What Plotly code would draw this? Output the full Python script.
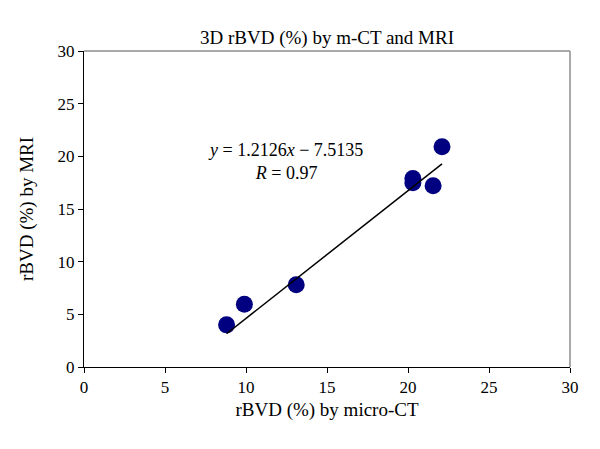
import plotly.graph_objects as go

# Data
mct = [8.8, 9.9, 13.1, 20.3, 20.3, 21.55, 22.1]
mri = [4.0, 5.95, 7.8, 17.9, 17.5, 17.2, 20.9]
slope = 1.2126
intercept = -7.5135
r_value = 0.97
tick_vals = [0, 5, 10, 15, 20, 25, 30]

FONT = "Liberation Serif"
TEXT_SIZE = 19
TICK_SIZE = 17

x_line = [min(mct), max(mct)]
y_line = [slope * v + intercept for v in x_line]

fig = go.Figure()
fig.add_trace(go.Scatter(
    x=mct, y=mri, mode="markers",
    marker=dict(size=17, color="#000080", line=dict(width=0)),
    showlegend=False, hoverinfo="x+y",
))
fig.add_trace(go.Scatter(
    x=x_line, y=y_line, mode="lines",
    line=dict(color="black", width=1.5),
    showlegend=False, hoverinfo="skip",
))

axis_common = dict(
    range=[0, 30], tickvals=tick_vals, ticks="outside", ticklen=5,
    tickcolor="black", tickwidth=1, showgrid=False, zeroline=False,
    showline=True, linecolor="black", linewidth=1,
    tickfont=dict(family=FONT, size=TICK_SIZE, color="black"),
)

fig.update_layout(
    width=600, height=449,
    margin=dict(l=76, r=38, t=43, b=90),
    paper_bgcolor="white", plot_bgcolor="white",
    font=dict(family=FONT, size=TEXT_SIZE, color="black"),
    title=dict(text="3D rBVD (%) by m-CT and MRI", x=319 / 600, xanchor="center",
               y=1 - 29 / 449, yanchor="middle",
               font=dict(family=FONT, size=TEXT_SIZE, color="black")),
    xaxis=dict(axis_common, title=dict(text="rBVD (%) by micro-CT", standoff=6,
                                        font=dict(family=FONT, size=TEXT_SIZE))),
    yaxis=dict(axis_common, title=dict(text="rBVD (%) by MRI", standoff=18,
                                        font=dict(family=FONT, size=TEXT_SIZE))),
    shapes=[
        dict(type="line", xref="paper", yref="paper", x0=0, x1=1, y0=1, y1=1,
             line=dict(color="#8c8c8c", width=1.5)),
        dict(type="line", xref="paper", yref="paper", x0=1, x1=1, y0=0, y1=1,
             line=dict(color="#8c8c8c", width=1.5)),
    ],
    annotations=[
        dict(x=12.44, y=19.5, xref="x", yref="y", showarrow=False,
             xanchor="center", yanchor="middle", align="center",
             text=(f"<i>y</i> = {slope}<i>x</i> − {abs(intercept)}"
                   f"<br><i>R</i> = {r_value}"),
             font=dict(family=FONT, size=18, color="black")),
    ],
)

fig.write_html("out.html")
